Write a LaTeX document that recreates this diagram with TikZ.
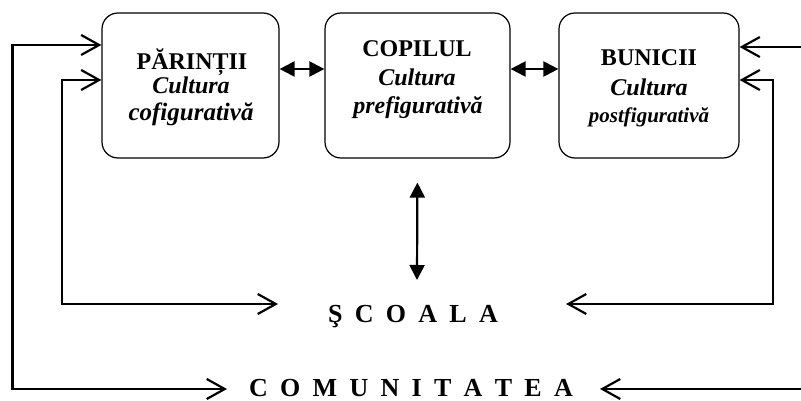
\documentclass[tikz,border=0pt]{standalone}
\usepackage{fontspec}
\setmainfont{Liberation Serif}
\usetikzlibrary{arrows.meta}
\newcommand\lsp{\hspace{12.3pt}}
\begin{document}
\begin{tikzpicture}[x=1pt,y=-1pt,
  box/.style={draw, line width=1.2pt, rounded corners=16pt, minimum height=145pt, inner sep=0pt},
  head/.style={anchor=base, inner sep=0pt, font=\fontsize{24}{28}\selectfont\bfseries},
  cult/.style={anchor=base, inner sep=0pt, font=\fontsize{24}{28}\selectfont\bfseries\itshape},
  big/.style={anchor=base, inner sep=0pt, font=\fontsize{26}{30}\selectfont\bfseries},
  conn/.style={line width=2.2pt},
  barbs/.style={conn, {Straight Barb[length=18pt,width=20pt]}-{Straight Barb[length=18pt,width=20pt]}},
  tri/.style={conn, {Triangle[length=15pt,width=15pt]}-{Triangle[length=15pt,width=15pt]}}
]
\useasboundingbox (0,0) rectangle (801,401);
\clip (0,0) rectangle (801,401);

% boxes
\node[box, minimum width=177pt] (par) at (190.5,85.5) {};
\node[box, minimum width=185pt] (cop) at (417.5,85.5) {};
\node[box, minimum width=180pt] (bun) at (649,85.5) {};

% box texts
\node[head] (parT) at (192,70) {PĂRINȚII};
\node[cult] (parC) at (191,94) {Cultura};
\node[cult, font=\fontsize{25}{28}\selectfont\bfseries\itshape] (parF) at (191,121) {cofigurativă};

\node[head] (copT) at (417,57) {COPILUL};
\node[cult] (copC) at (417,86) {Cultura};
\node[cult] (copF) at (418,114) {prefigurativă};

\node[head] (bunT) at (649,66) {BUNICII};
\node[cult] (bunC) at (649,96) {Cultura};
\node[cult, font=\fontsize{21}{25}\selectfont\bfseries\itshape] (bunF) at (649,123) {postfigurativă};

% bottom texts
\node[big] (scoala) at (413,322) {Ş\lsp C\lsp O\lsp A\lsp L\lsp A};
\node[big] (comun) at (411,396) {C\lsp O\lsp M\lsp U\lsp N\lsp I\lsp T\lsp A\lsp T\lsp E\lsp A};

% connector corners and free ends
\coordinate (oL) at (12.5,389);
\coordinate (cL) at (227,389);
\coordinate (iL) at (62,304);
\coordinate (sL) at (278,304);
\coordinate (iR) at (773,304);
\coordinate (sR) at (566,304);
\coordinate (oR) at (812,389);
\coordinate (cR) at (600,389);
\coordinate (sTip) at (417,280);

% double arrows between boxes
\draw[tri] ([yshift=16.5pt]par.east) -- ([yshift=16.5pt]cop.west);
\draw[tri] ([yshift=16.5pt]cop.east) -- ([yshift=16.5pt]bun.west);
\draw[tri, shorten <=24pt] (cop.south) -- (sTip);

% feedback lines
\draw[barbs] ([yshift=40.5pt]par.west) -| (oL) -- (cL);
\draw[barbs] ([yshift=5.5pt]par.west) -| (iL) -- (sL);
\draw[barbs] ([yshift=5.5pt]bun.east) -| (iR) -- (sR);
\draw[barbs] ([yshift=38.5pt]bun.east) -| (oR) -- (cR);
\end{tikzpicture}
\end{document}
